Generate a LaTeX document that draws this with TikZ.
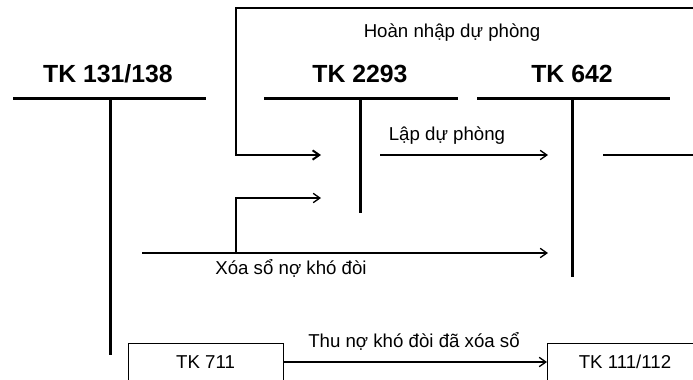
\documentclass[tikz,border=0pt]{standalone}
\usepackage{fontspec}
\setmainfont{Liberation Sans}
\usetikzlibrary{arrows.meta}

\begin{document}
\begin{tikzpicture}[x=0.75pt, y=-0.75pt,
	tbar/.style={line width=2.25pt},
	flow/.style={line width=1pt, -{Straight Barb[length=5pt,width=7pt]}},
	title/.style={font=\fontsize{18.6}{20}\selectfont\bfseries, anchor=base, inner sep=0pt},
	note/.style={font=\fontsize{14}{16}\selectfont, anchor=base, inner sep=0pt},
	acct/.style={draw, line width=0.75pt, font=\fontsize{14}{16}\selectfont, minimum width=116.25pt, minimum height=28.5pt, inner sep=0pt}]
	%page size
	\useasboundingbox (0,0) rectangle (693,379);
	\clip (0,0) rectangle (693,379);

	%account titles
	\node[title] (tk131) at (108,82) {TK 131/138};
	\node[title] (tk2293) at (360,82) {TK 2293};
	\node[title] (tk642) at (572,82) {TK 642};

	%T accounts
	\draw[tbar] (13,98) -- (206,98);
	\draw[tbar] (110,98) -- (110,355);
	\draw[tbar] (264,98) -- (458,98);
	\draw[tbar] (360,98) -- (360,213);
	\draw[tbar] (477,98) -- (670,98);
	\draw[tbar] (572,98) -- (572,277);

	%end points of the flows
	\coordinate (hnStart) at (700,8);
	\coordinate (hnCorner) at (236,155);
	\coordinate (hnEnd) at (321,155);
	\coordinate (ldpStart) at (380,155);
	\coordinate (ldpEnd) at (548,155);
	\coordinate (outStart) at (603,155);
	\coordinate (outEnd) at (700,155);
	\coordinate (xsStart) at (142,253);
	\coordinate (xsEnd) at (548,253);
	\coordinate (xsFork) at (236,253);
	\coordinate (xsBack) at (321,198);

	%flows
	\draw[flow, line width=1.5pt] (hnStart) -| (hnCorner) -- (hnEnd);
	\draw[flow] (ldpStart) -- (ldpEnd);
	\draw[line width=1pt] (outStart) -- (outEnd);
	\draw[flow] (xsStart) -- (xsEnd);
	\draw[flow] (xsFork) |- (xsBack);

	%labels
	\node[note] (hnLabel) at (452,37) {Hoàn nhập dự phòng};
	\node[note] (ldpLabel) at (447,140) {Lập dự phòng};
	\node[note] (xsLabel) at (291,274) {Xóa sổ nợ khó đòi};
	\node[note] (thuLabel) at (414,347) {Thu nợ khó đòi đã xóa sổ};

	%cash collected
	\node[acct] (tk711) at (205.5,362) {TK 711};
	\node[acct] (tk111) at (625,362) {TK 111/112};
	\draw[flow] (tk711) -- (tk111);
\end{tikzpicture}
\end{document}
